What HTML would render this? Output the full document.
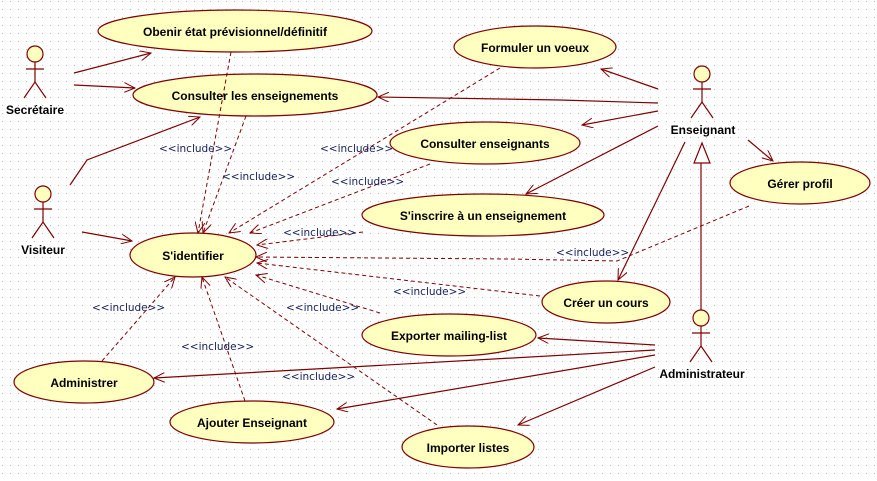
<!DOCTYPE html>
<html><head><meta charset="utf-8"><style>
html,body{margin:0;padding:0;background:#fff}
svg{display:block}
.t{font-family:"Liberation Sans",sans-serif;font-size:12px;font-weight:bold;fill:#000;text-anchor:middle}
.i{font-family:"DejaVu Sans","Liberation Sans",sans-serif;font-size:10.5px;fill:#14205a}
</style></head><body>
<svg width="877" height="481" viewBox="0 0 877 481" xmlns="http://www.w3.org/2000/svg">
<defs>
<pattern id="g" width="8" height="8" patternUnits="userSpaceOnUse" x="2" y="1"><rect x="0" y="0" width="1" height="1" fill="#b8b8b8"/></pattern>
<marker id="a" markerWidth="12" markerHeight="10" refX="11" refY="5" orient="auto" markerUnits="userSpaceOnUse"><path d="M0,0 L11,5 L0,10" fill="none" stroke="#800000" stroke-width="1"/></marker>
</defs>
<rect width="877" height="481" fill="url(#g)"/>
<g stroke="#800000" stroke-width="1.2" fill="none">
<line x1="74" y1="73" x2="151" y2="53" marker-end="url(#a)"/>
<line x1="74" y1="85" x2="135" y2="88" marker-end="url(#a)"/>
<polyline points="70,185 87,160 200,117" marker-end="url(#a)"/>
<line x1="82" y1="232" x2="132" y2="241" marker-end="url(#a)"/>
<line x1="658" y1="89" x2="601" y2="69" marker-end="url(#a)"/>
<polyline points="658,103 560,100 378,97" marker-end="url(#a)"/>
<line x1="658" y1="111" x2="582" y2="125" marker-end="url(#a)"/>
<line x1="658" y1="126" x2="526" y2="194" marker-end="url(#a)"/>
<line x1="685" y1="142" x2="618" y2="280" marker-end="url(#a)"/>
<line x1="748" y1="140" x2="773" y2="161" marker-end="url(#a)"/>
<line x1="701" y1="163" x2="701" y2="310"/>
<polygon points="702,143 694,163 710,163" fill="#fff"/>
<line x1="655" y1="345" x2="538" y2="338" marker-end="url(#a)"/>
<line x1="655" y1="350" x2="154" y2="378" marker-end="url(#a)"/>
<line x1="655" y1="355" x2="337" y2="409" marker-end="url(#a)"/>
<line x1="655" y1="367" x2="518" y2="425" marker-end="url(#a)"/>
</g>
<g stroke="#800000" stroke-width="1" fill="none" stroke-dasharray="4,3">
<line x1="246" y1="116" x2="203" y2="233" marker-end="url(#a)"/>
<line x1="500" y1="68" x2="229" y2="233" marker-end="url(#a)"/>
<line x1="430" y1="164" x2="250" y2="233" marker-end="url(#a)"/>
<line x1="363" y1="232" x2="257" y2="245" marker-end="url(#a)"/>
<polyline points="749,206 617,261 508,259 256,257" marker-end="url(#a)"/>
<line x1="540" y1="296" x2="257" y2="263" marker-end="url(#a)"/>
<line x1="380" y1="313" x2="256" y2="275" marker-end="url(#a)"/>
<line x1="437" y1="425" x2="225" y2="277" marker-end="url(#a)"/>
<line x1="245" y1="401" x2="202" y2="277" marker-end="url(#a)"/>
<line x1="102" y1="361" x2="175" y2="277" marker-end="url(#a)"/>
</g>
<g fill="#ffffc0" stroke="#800000" stroke-width="1.2">
<ellipse cx="235" cy="31" rx="137" ry="21"/>
<ellipse cx="255" cy="95" rx="122" ry="21"/>
<ellipse cx="535" cy="47" rx="81" ry="21"/>
<ellipse cx="485" cy="143" rx="95" ry="21"/>
<ellipse cx="483" cy="215" rx="121" ry="21"/>
<ellipse cx="800" cy="183" rx="70" ry="21"/>
<ellipse cx="193" cy="255" rx="63" ry="22"/>
<ellipse cx="606" cy="302" rx="64" ry="21"/>
<ellipse cx="449" cy="335" rx="87" ry="21"/>
<ellipse cx="84" cy="382" rx="70" ry="21"/>
<ellipse cx="252" cy="422" rx="82" ry="21"/>
<ellipse cx="468" cy="447" rx="66" ry="21"/>
</g>
<line x1="231" y1="52" x2="198" y2="233" stroke="#800000" stroke-width="1" fill="none" stroke-dasharray="4,3" marker-end="url(#a)"/>
<g class="t">
<text x="235" y="36">Obenir état prévisionnel/définitif</text>
<text x="255" y="100">Consulter les enseignements</text>
<text x="535" y="52">Formuler un voeux</text>
<text x="485" y="148">Consulter enseignants</text>
<text x="483" y="220">S'inscrire à un enseignement</text>
<text x="800" y="188">Gérer profil</text>
<text x="193" y="260">S'identifier</text>
<text x="606" y="307">Créer un cours</text>
<text x="449" y="340">Exporter mailing-list</text>
<text x="84" y="387">Administrer</text>
<text x="252" y="427">Ajouter Enseignant</text>
<text x="468" y="452">Importer listes</text>
<text x="35" y="114">Secrétaire</text>
<text x="43" y="254">Visiteur</text>
<text x="703" y="134">Enseignant</text>
<text x="702" y="378">Administrateur</text>
</g>
<g class="i">
<text x="159" y="152">&lt;&lt;include&gt;&gt;</text>
<text x="222" y="180">&lt;&lt;include&gt;&gt;</text>
<text x="320" y="152">&lt;&lt;include&gt;&gt;</text>
<text x="331" y="185">&lt;&lt;include&gt;&gt;</text>
<text x="283" y="236">&lt;&lt;include&gt;&gt;</text>
<text x="556" y="256">&lt;&lt;include&gt;&gt;</text>
<text x="393" y="295">&lt;&lt;include&gt;&gt;</text>
<text x="286" y="311">&lt;&lt;include&gt;&gt;</text>
<text x="92" y="311">&lt;&lt;include&gt;&gt;</text>
<text x="181" y="350">&lt;&lt;include&gt;&gt;</text>
<text x="282" y="380">&lt;&lt;include&gt;&gt;</text>
</g>
<g stroke="#800000" stroke-width="1.2" fill="none">
<g transform="translate(35,54)"><circle r="8" fill="#ffffc0"/><line x1="0" y1="8" x2="0" y2="28"/><line x1="-9" y1="15" x2="9" y2="15"/><polyline points="-11,44 0,28 11,44"/></g>
<g transform="translate(43,194)"><circle r="8" fill="#ffffc0"/><line x1="0" y1="8" x2="0" y2="28"/><line x1="-9" y1="15" x2="9" y2="15"/><polyline points="-11,44 0,28 11,44"/></g>
<g transform="translate(702,74)"><circle r="8" fill="#ffffc0"/><line x1="0" y1="8" x2="0" y2="28"/><line x1="-9" y1="15" x2="9" y2="15"/><polyline points="-11,44 0,28 11,44"/></g>
<g transform="translate(701,318)"><circle r="8" fill="#ffffc0"/><line x1="0" y1="8" x2="0" y2="28"/><line x1="-9" y1="15" x2="9" y2="15"/><polyline points="-11,44 0,28 11,44"/></g>
</g>
</svg>
</body></html>
